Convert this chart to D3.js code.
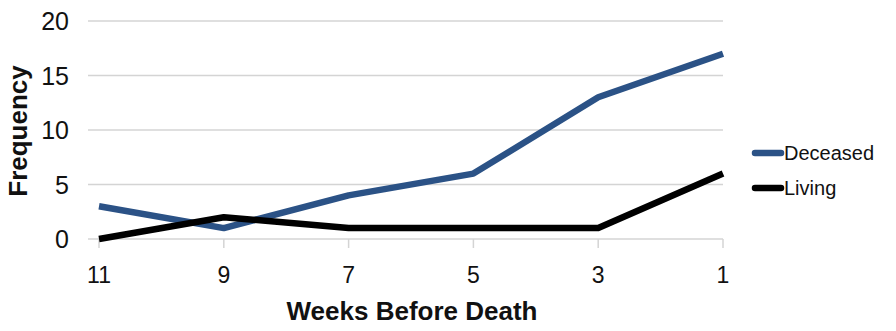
<!DOCTYPE html>
<html><head><meta charset="utf-8">
<script src="https://cdn.jsdelivr.net/npm/d3@7"></script>
<style>body{margin:0;background:#fff}svg{display:block}text{font-family:"Liberation Sans",Arial,sans-serif}</style>
</head><body><svg id="c" width="896" height="331"></svg>
<script>
const categories = ["11","9","7","5","3","1"];
const deceased = [3,1,4,6,13,17];
const living = [0,2,1,1,1,6];
const yTicks = [0,5,10,15,20];
const seriesNames = ["Deceased","Living"];
const colors = ["#2b5286","#000000"];

const svg = d3.select("#c");
const x = d3.scalePoint().domain(categories).range([99,723]);
const y = d3.scaleLinear().domain([0,20]).range([239,21]);

svg.append("g").selectAll("line").data(yTicks).join("line")
  .attr("x1",88).attr("x2",723).attr("y1",d=>y(d)).attr("y2",d=>y(d))
  .attr("stroke","#d4d4d4").attr("stroke-width",1.5);
svg.append("g").selectAll("line").data(categories).join("line")
  .attr("x1",d=>x(d)).attr("x2",d=>x(d)).attr("y1",239).attr("y2",248)
  .attr("stroke","#d4d4d4").attr("stroke-width",1.5);
svg.append("g").selectAll("text").data(yTicks).join("text")
  .attr("x",69).attr("y",d=>y(d)).attr("dy","0.36em").attr("text-anchor","end")
  .attr("font-size",25).attr("fill","#111").text(d=>d);
svg.append("g").selectAll("text").data(categories).join("text")
  .attr("x",d=>x(d)).attr("y",283).attr("text-anchor","middle")
  .attr("font-size",23).attr("fill","#111").text(d=>d);

const line = d3.line().x((d,i)=>x(categories[i])).y(d=>y(d));
[deceased, living].forEach((s,k)=>{
  svg.append("path").datum(s).attr("d",line).attr("fill","none")
    .attr("stroke",colors[k]).attr("stroke-width",6.5).attr("stroke-linejoin","round").attr("stroke-linecap","butt");
});

svg.append("text").attr("x",412).attr("y",320).attr("text-anchor","middle")
  .attr("font-size",26).attr("font-weight","bold").attr("fill","#111").text("Weeks Before Death");
svg.append("text").attr("transform","translate(27,131) rotate(-90)").attr("text-anchor","middle")
  .attr("font-size",26).attr("font-weight","bold").attr("fill","#111").text("Frequency");

const lg = svg.append("g");
seriesNames.forEach((n,k)=>{
  const yy = 153 + k*35;
  lg.append("line").attr("x1",755).attr("x2",781).attr("y1",yy).attr("y2",yy)
    .attr("stroke",colors[k]).attr("stroke-width",6.5).attr("stroke-linecap","round");
  lg.append("text").attr("x",784).attr("y",yy).attr("dy","0.36em")
    .attr("font-size",20).attr("fill","#111").text(n);
});
</script></body></html>
